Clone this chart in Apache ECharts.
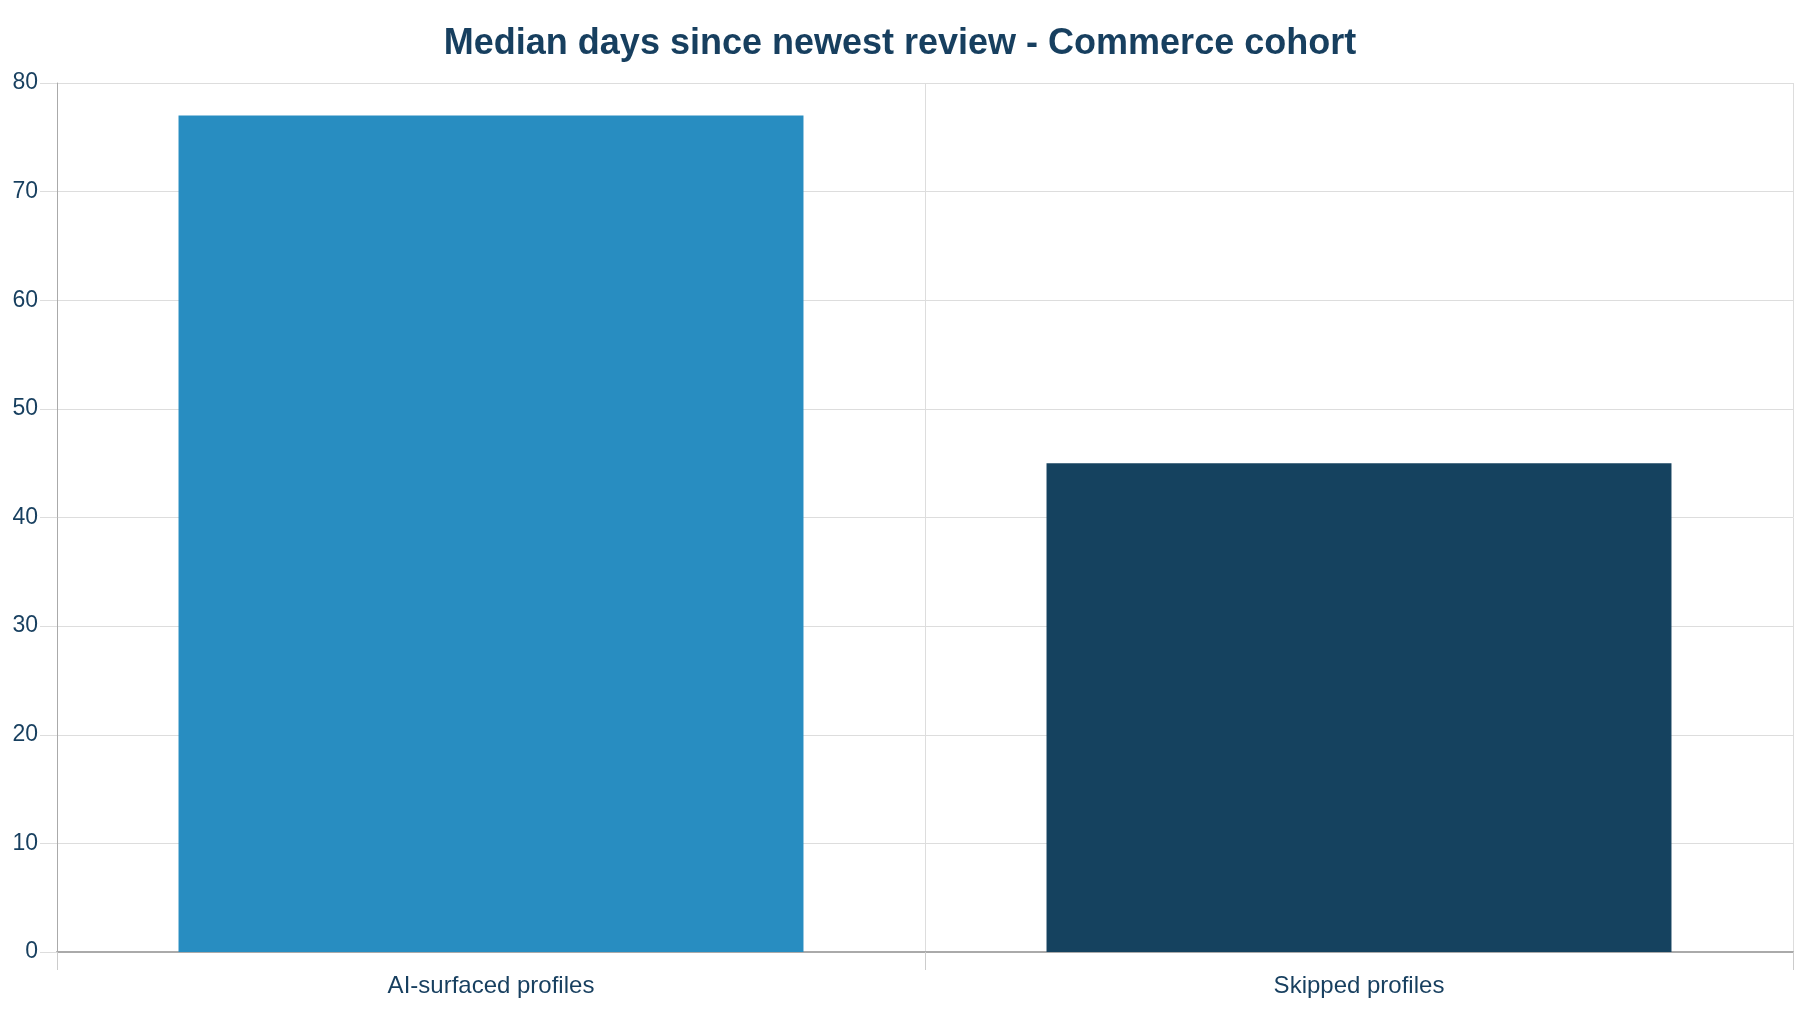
<!DOCTYPE html>
<html>
<head>
<meta charset="utf-8">
<title>Median days since newest review</title>
<script src="https://cdn.jsdelivr.net/npm/echarts@6/dist/echarts.min.js"></script>
<style>
  html, body { margin: 0; padding: 0; background: #fff; }
  #chart { width: 1800px; height: 1012px; }
</style>
</head>
<body>
<div id="chart"></div>
<script>
const categories = ['AI-surfaced profiles', 'Skipped profiles'];
const medianDays = [77, 45];
const barColors = ['#288dc1', '#15425f'];

const textColor = '#173f5f';

echarts.init(document.getElementById('chart')).setOption({
  animation: false,
  title: {
    text: 'Median days since newest review - Commerce cohort',
    left: 'center',
    top: 21,
    textStyle: {
      fontFamily: 'Liberation Sans',
      fontSize: 36,
      fontWeight: 'bold',
      color: textColor
    }
  },
  grid: { left: 57, right: 7, top: 83, bottom: 60 },
  xAxis: {
    type: 'category',
    data: categories,
    axisLine: { lineStyle: { color: '#aaa', width: 2 } },
    axisTick: { show: true, length: 18, lineStyle: { color: '#ccc' } },
    splitLine: { show: true, lineStyle: { color: '#ddd' } },
    axisLabel: {
      margin: 22,
      fontFamily: 'Liberation Sans',
      fontSize: 24,
      color: textColor
    }
  },
  yAxis: {
    type: 'value',
    min: 0,
    max: 80,
    interval: 10,
    axisLine: { show: true, lineStyle: { color: '#aaa' } },
    axisTick: { show: true, length: 17, lineStyle: { color: '#ddd' } },
    splitLine: { lineStyle: { color: '#ddd' } },
    axisLabel: {
      margin: 19,
      padding: [4, 0, 0, 0],
      fontFamily: 'Liberation Sans',
      fontSize: 23,
      color: textColor
    }
  },
  series: [{
    type: 'bar',
    barWidth: '72%',
    data: medianDays.map((v, i) => ({ value: v, itemStyle: { color: barColors[i] } }))
  }]
});
</script>
</body>
</html>
